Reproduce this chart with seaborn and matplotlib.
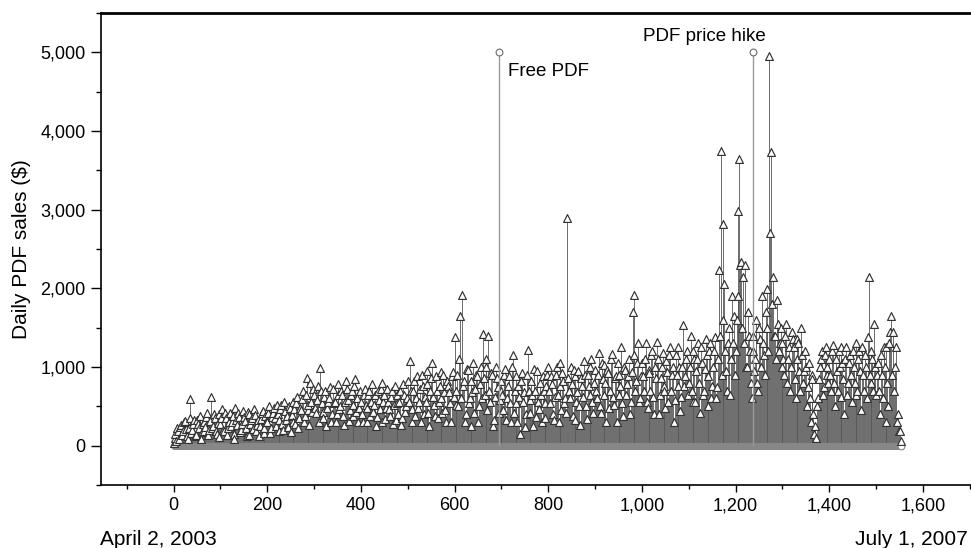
import numpy as np
import pandas as pd
import matplotlib
matplotlib.use("Agg")
import matplotlib.pyplot as plt
from matplotlib.ticker import MultipleLocator, FuncFormatter
import seaborn as sns

# ---------------- data ----------------
# sales on days 0, 4, 8, ... 1552
sales_a = [
    # days 0-96
    40, 150, 220, 90, 260, 180, 310, 120, 230, 590, 200, 330, 140, 280, 380, 170, 300, 240, 420, 200, 620, 250, 350, 150, 400,
    # days 100-196
    280, 460, 180, 350, 230, 420, 300, 150, 480, 260, 370, 200, 440, 310, 120, 400, 270, 350, 460, 190, 330, 250, 420, 160, 380,
    # days 200-296
    300, 510, 220, 420, 350, 520, 180, 460, 280, 550, 330, 240, 480, 390, 560, 270, 620, 350, 450, 700, 380, 860, 520, 800, 430,
    # days 300-396
    650, 420, 760, 990, 540, 350, 700, 480, 600, 300, 720, 560, 400, 780, 500, 640, 260, 820, 580, 450, 700, 380, 850, 600, 480,
    # days 400-496
    560, 300, 720, 480, 640, 380, 780, 520, 250, 690, 470, 800, 560, 340, 720, 460, 620, 280, 760, 540, 400, 700, 350, 650, 500,
    # days 500-596
    820, 1070, 460, 700, 380, 880, 560, 300, 760, 620, 950, 420, 700, 1050, 520, 880, 350, 760, 600, 900, 450, 820, 680, 300, 940,
    # days 600-696
    1380, 700, 500, 1650, 1920, 820, 400, 960, 600, 250, 1050, 720, 880, 500, 1000, 1420, 650, 1100, 1400, 560, 900, 320, 1000, 740, 580,
    # days 700-796
    820, 450, 980, 600, 880, 300, 1150, 700, 540, 760, 150, 920, 680, 400, 1220, 580, 820, 250, 700, 950, 460, 640, 880, 350, 760,
    # days 800-896
    1000, 540, 780, 320, 900, 650, 1050, 450, 820, 600, 2900, 700, 1000, 380, 880, 560, 950, 260, 760, 1080, 500, 900, 650, 1100, 420,
    # days 900-996
    960, 600, 1180, 420, 850, 1020, 300, 920, 700, 1160, 520, 880, 1050, 640, 1250, 380, 960, 780, 1100, 560, 1700, 1920, 820, 1300, 600,
    # days 1000-1096
    1050, 700, 1300, 480, 920, 1150, 620, 1000, 1320, 400, 860, 1180, 700, 1080, 560, 1250, 900, 300, 1150, 760, 1000, 620, 1540, 880, 1200,
    # days 1100-1196
    800, 1400, 560, 1100, 950, 1300, 420, 1050, 700, 1350, 880, 1200, 600, 1000, 1380, 750, 2230, 3750, 2820, 2060, 950, 1300, 650, 1900, 1650,
    # days 1200-1296
    1200, 2980, 3650, 2340, 2140, 2300, 1000, 1400, 800, 1200, 950, 1600, 700, 1350, 1900, 1150, 1700, 1990, 4950, 3730, 2140, 1400, 1850, 1200, 1500,
    # days 1300-1396
    1300, 900, 1550, 1100, 700, 1450, 1250, 600, 1350, 950, 1500, 800, 1200, 500, 1050, 300, 850, 150, 100, 600, 1000, 1200, 750, 1250, 900,
    # days 1400-1496
    1100, 700, 1280, 500, 950, 1200, 620, 1050, 400, 1250, 800, 1150, 550, 1000, 1300, 700, 1200, 450, 900, 1150, 600, 2150, 800, 1100, 1550,
    # days 1500-1552
    650, 1050, 400, 900, 1250, 300, 800, 1300, 1650, 1450, 1000, 300, 180, 60,
]
# sales on days 2, 6, 10, ... 1550
sales_b = [
    # days 2-98
    100, 60, 180, 240, 130, 300, 210, 80, 350, 160, 270, 120, 330, 220, 90, 280, 180, 360, 140, 310, 230, 400, 190, 290, 110,
    # days 102-198
    350, 200, 410, 130, 300, 250, 380, 90, 320, 410, 170, 280, 360, 230, 430, 140, 330, 210, 390, 260, 120, 340, 440, 220, 300,
    # days 202-298
    420, 160, 370, 480, 250, 400, 330, 520, 200, 440, 380, 510, 170, 300, 460, 540, 220, 480, 590, 300, 640, 450, 260, 560, 720,
    # days 302-398
    480, 580, 300, 690, 430, 620, 250, 560, 740, 400, 540, 300, 650, 470, 700, 380, 560, 720, 310, 640, 520, 760, 430, 300, 690,
    # days 402-498
    400, 640, 520, 300, 700, 560, 430, 640, 360, 580, 720, 300, 650, 480, 560, 380, 700, 520, 330, 640, 560, 260, 780, 430, 610,
    # days 502-598
    560, 700, 300, 820, 600, 480, 720, 900, 400, 560, 780, 250, 860, 620, 380, 700, 560, 940, 420, 680, 300, 760, 540, 880, 620,
    # days 602-698
    520, 900, 1100, 600, 760, 300, 980, 540, 820, 680, 420, 900, 300, 780, 600, 860, 1000, 450, 700, 920, 250, 620, 860, 420, 700,
    # days 702-798
    640, 900, 320, 760, 540, 1000, 420, 880, 300, 620, 820, 560, 240, 900, 700, 420, 640, 980, 360, 560, 800, 300, 700, 540, 900,
    # days 802-898
    700, 880, 400, 620, 1000, 300, 760, 920, 540, 420, 860, 600, 780, 960, 320, 680, 500, 860, 620, 900, 340, 760, 1000, 560, 800,
    # days 902-998
    700, 900, 500, 1050, 640, 800, 960, 480, 1100, 620, 860, 300, 900, 760, 540, 1000, 650, 880, 400, 940, 1150, 700, 1050, 560, 880,
    # days 1002-1098
    880, 1100, 560, 960, 700, 1200, 400, 860, 1100, 640, 1000, 760, 480, 940, 1150, 700, 1000, 580, 900, 1250, 440, 1000, 760, 1100, 650,
    # days 1102-1198
    1000, 700, 1200, 560, 1100, 800, 1250, 640, 980, 1150, 500, 1300, 760, 1200, 600, 1100, 1400, 900, 1600, 1200, 700, 1500, 1100, 1300, 900,
    # days 1202-1298
    1600, 1900, 2300, 1500, 1300, 1000, 1700, 1200, 600, 1400, 1100, 800, 1500, 1000, 1300, 900, 1500, 1200, 2700, 1800, 1400, 1100, 1550, 1300, 1000,
    # days 1302-1398
    1100, 1400, 800, 1250, 1000, 1350, 850, 1100, 1300, 700, 1150, 950, 1000, 750, 600, 900, 400, 250, 500, 850, 1100, 650, 1150, 1000, 800,
    # days 1402-1498
    900, 1200, 800, 1100, 700, 1000, 1250, 850, 1100, 650, 1050, 900, 1200, 800, 650, 1100, 950, 1250, 700, 1000, 1380, 900, 1200, 700, 1000,
    # days 1502-1550
    900, 700, 1150, 600, 1000, 1250, 500, 1450, 900, 700, 1250, 400, 180,
]
days_a = np.arange(len(sales_a)) * 4
days_b = np.arange(len(sales_b)) * 4 + 2

event_days = [695, 1238]
event_values = [5000, 5000]
event_labels = ["Free PDF", "PDF price hike"]

x_major_ticks = [0, 200, 400, 600, 800, 1000, 1200, 1400, 1600]
y_major_ticks = [0, 1000, 2000, 3000, 4000, 5000]
start_label = "April 2, 2003"
end_label = "July 1, 2007"
y_label = "Daily PDF sales ($)"

df = pd.DataFrame({"day": np.concatenate([days_a, days_b]),
                   "sales": np.concatenate([sales_a, sales_b])}).sort_values("day")
df["base"] = 0.0
end_df = df.tail(1)
ev = pd.DataFrame({"day": event_days, "value": event_values})

# ---------------- figure ----------------
sns.set_style("ticks")
plt.rcParams["font.family"] = ["Liberation Sans", "DejaVu Sans"]
for k in ["text.color", "axes.labelcolor", "xtick.color", "ytick.color", "axes.edgecolor"]:
    plt.rcParams[k] = "black"

fig = plt.figure(figsize=(9.71, 5.48), dpi=100)
ax = fig.add_axes([0.1040, 0.1150, 0.9001, 0.8613])

# stems
ax.vlines(df["day"], 0, df["sales"], colors="#555555", linewidth=0.6, zorder=2)
# baseline circles (zero series)
sns.scatterplot(data=df, x="day", y="base", marker="o", s=19, color="#878787",
                edgecolor="#878787", linewidth=0.5, ax=ax, zorder=2.5, legend=False)
sns.scatterplot(data=end_df, x="day", y="base", marker="o", s=24, color="white",
                edgecolor="#878787", linewidth=0.8, ax=ax, zorder=2.6, legend=False)
# triangle tops
sns.scatterplot(data=df, x="day", y="sales", marker="^", s=32, color="white",
                edgecolor="#333333", linewidth=0.85, ax=ax, zorder=3, legend=False)
# events
ax.vlines(ev["day"], 0, ev["value"], colors="#9a9a9a", linewidth=1.0, zorder=3.5)
sns.scatterplot(data=ev, x="day", y="value", marker="o", s=24, color="white",
                edgecolor="#6a6a6a", linewidth=0.8, ax=ax, zorder=4, legend=False)

ax.text(event_days[0] + 20, 4760, event_labels[0], fontsize=13.5, va="center", ha="left")
ax.text(1133, 5195, event_labels[1], fontsize=13.5, va="center", ha="center")

# axes
ax.set_xlim(-155, 1711)
ax.set_ylim(-500, 5500)
ax.set_xticks(x_major_ticks)
ax.set_yticks(y_major_ticks)
ax.xaxis.set_minor_locator(MultipleLocator(100))
ax.yaxis.set_minor_locator(MultipleLocator(500))
fmt = FuncFormatter(lambda v, p: f"{int(v):,}")
ax.xaxis.set_major_formatter(fmt)
ax.yaxis.set_major_formatter(fmt)
ax.tick_params(axis="y", which="major", length=7, width=1.0, pad=4, labelsize=13, colors="black")
ax.tick_params(axis="y", which="minor", length=3.5, width=1.0)
ax.tick_params(axis="x", which="major", length=5, width=1.0, pad=4, labelsize=13, colors="black")
ax.tick_params(axis="x", which="minor", length=3, width=1.0)

ax.set_xlabel("")
ax.set_ylabel(y_label, fontsize=15, labelpad=7)

ax.spines["right"].set_visible(False)
ax.spines["top"].set_visible(True)
ax.spines["top"].set_linewidth(2.0)
ax.spines["left"].set_linewidth(1.2)
ax.spines["bottom"].set_linewidth(1.2)
for s in ["top", "left", "bottom"]:
    ax.spines[s].set_color("black")

fig.text(100 / 971, 3 / 548, start_label, fontsize=15, ha="left", va="baseline")
fig.text(968 / 971, 3 / 548, end_label, fontsize=15, ha="right", va="baseline")

fig.savefig("out.png", dpi=100)
